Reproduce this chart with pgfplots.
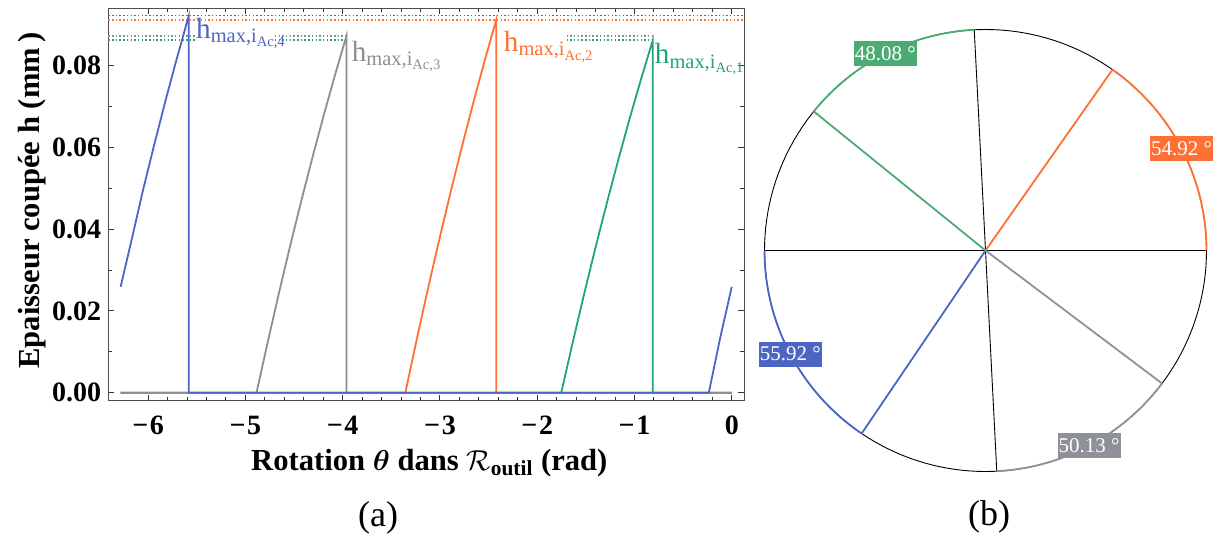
\documentclass[border=0pt]{standalone}
\usepackage{fontspec}
\setmainfont{Liberation Serif}
\usepackage{amsmath}
\usepackage{pgfplots}
\pgfplotsset{compat=1.18}
\definecolor{cB}{RGB}{78,100,198}
\definecolor{cO}{RGB}{255,112,50}
\definecolor{cG}{RGB}{30,165,120}
\definecolor{cY}{RGB}{140,142,148}
\definecolor{pB}{RGB}{76,100,196}
\definecolor{pO}{RGB}{255,112,51}
\definecolor{pG}{RGB}{76,170,116}
\definecolor{pY}{RGB}{142,146,152}
\tikzset{dotl/.style={line width=0.75pt, dash pattern=on 0.75pt off 1.1pt}}
\begin{document}
\begin{tikzpicture}
\path[use as bounding box] (0,0) rectangle (607pt,268.5pt);
\begin{axis}[
  at={(54.15pt,68.15pt)}, anchor=south west,
  scale only axis, width=317.85pt, height=196.2pt,
  xmin=-6.41, xmax=0.126, ymin=-0.00196, ymax=0.0940,
  axis line style={black!70, line width=0.5pt},
  tick style={black!80, line width=0.5pt},
  major tick length=3pt, minor tick length=2pt,
  tick align=inside,
  xtick={-6,-5,-4,-3,-2,-1,0},
  xticklabels={{−\kern0.8pt6},{−\kern0.8pt5},{−\kern0.8pt4},{−\kern0.8pt3},{−\kern0.8pt2},{−\kern0.8pt1},{0}},
  ytick={0,0.02,0.04,0.06,0.08},
  yticklabels={0.00,0.02,0.04,0.06,0.08},
  minor x tick num=4, minor y tick num=1,
  ticklabel style={font=\fontsize{14}{16}\selectfont\bfseries},
  xticklabel style={yshift=-4pt},
  xlabel={Rotation $\boldsymbol{\theta}$ dans $\mathcal{R}_{\textbf{outil}}$ (rad)},
  ylabel={Epaisseur coupée h (mm\,)},
  xlabel style={at={(axis description cs:0.505,-0.159)}, anchor=center, font=\fontsize{15.3}{18}\selectfont\bfseries},
  ylabel style={at={(axis description cs:-0.12,0.51)}, anchor=center, rotate=0, font=\fontsize{15.3}{18}\selectfont\bfseries},
  clip=false,
]
% dotted reference lines
\addplot[cB, dotl] coordinates {(-6.41,0.09227) (0.126,0.09227)};
\addplot[cO, dotl] coordinates {(-6.41,0.0912) (0.126,0.0912)};
\addplot[cY, dotl] coordinates {(-6.41,0.0872) (-5.52,0.0872)};
\addplot[cY, dotl] coordinates {(-4.698,0.0872) (-3.958,0.0872)};
\addplot[cY, dotl] coordinates {(-1.699,0.0872) (-0.798,0.0872)};
\addplot[cG, dotl] coordinates {(-6.41,0.0862) (-5.52,0.0862)};
\addplot[cG, dotl] coordinates {(-4.698,0.0862) (-3.958,0.0862)};
\addplot[cG, dotl] coordinates {(-1.699,0.0862) (-0.798,0.0862)};
% series
\addplot[cG, line width=0.9pt] coordinates {(-6.2832,0) (-1.753,0) (-1.6354,0.01228) (-1.5178,0.02414) (-1.4001,0.03556) (-1.2825,0.04655) (-1.1649,0.05711) (-1.0473,0.06724) (-0.9296,0.07693) (-0.812,0.0862) (-0.812,0) (0,0)};
\addplot[cO, line width=0.9pt] coordinates {(-6.2832,0) (-3.356,0) (-3.2391,0.013) (-3.1223,0.02554) (-3.0054,0.03762) (-2.8885,0.04925) (-2.7716,0.06042) (-2.6548,0.07114) (-2.5379,0.0814) (-2.421,0.0912) (-2.421,0) (0,0)};
\addplot[cY, line width=0.9pt] coordinates {(-6.2832,0) (-4.886,0) (-4.7705,0.01243) (-4.655,0.02442) (-4.5395,0.03597) (-4.424,0.04709) (-4.3085,0.05777) (-4.193,0.06802) (-4.0775,0.07783) (-3.962,0.0872) (-3.962,0) (0,0)};
\addplot[cB, line width=0.9pt] coordinates {(-6.2832,0.0259) (-6.1669,0.03773) (-6.0505,0.04979) (-5.9334,0.06108) (-5.8163,0.07192) (-5.6991,0.08229) (-5.582,0.0922) (-5.582,0) (-0.236,0) (-0.118,0.0135) (0,0.0259)};
% labels
\node[cB, anchor=base west, inner sep=0pt, font=\fontsize{14.6}{16}\selectfont] at (axis cs:-5.51,0.08665) {$\text{h}_{\text{max,i}_{\text{Ac,4}}}$};
\node[cY, anchor=base west, inner sep=0pt, font=\fontsize{14.6}{16}\selectfont] at (axis cs:-3.91,0.0811) {$\text{h}_{\text{max,i}_{\text{Ac,3}}}$};
\node[cO, anchor=base west, inner sep=0pt, font=\fontsize{14.6}{16}\selectfont] at (axis cs:-2.346,0.0834) {$\text{h}_{\text{max,i}_{\text{Ac,2}}}$};
\node[cG, anchor=base west, inner sep=0pt, font=\fontsize{14.6}{16}\selectfont] at (axis cs:-0.794,0.0804) {$\text{h}_{\text{max,i}_{\text{Ac,1}}}$};
\end{axis}
\node[font=\fontsize{18}{20}\selectfont] at (189pt,9.5pt) {(a)};
\node[font=\fontsize{18}{20}\selectfont] at (494.5pt,10pt) {(b)};
\begin{axis}[
  at={(492.75pt,143.25pt)}, anchor=center,
  scale only axis, width=221pt, height=221pt,
  xmin=-1, xmax=1, ymin=-1, ymax=1,
  hide axis, clip=false,
]
\addplot[black, line width=0.45pt, domain=0:360, samples=181, variable=\t] ({cos(t)},{sin(t)});
\addplot[black, line width=0.45pt] coordinates {(-1,0) (1,0)};
\addplot[black, line width=0.45pt] coordinates {(-0.05094,0.99870) (0.05094,-0.99870)};
\addplot[pO, line width=0.9pt, domain=0:54.92, samples=40, variable=\t] ({cos(t)},{sin(t)});
\addplot[pG, line width=0.9pt, domain=92.92:141.0, samples=40, variable=\t] ({cos(t)},{sin(t)});
\addplot[pB, line width=0.9pt, domain=180:235.92, samples=40, variable=\t] ({cos(t)},{sin(t)});
\addplot[pY, line width=0.9pt, domain=272.92:323.05, samples=40, variable=\t] ({cos(t)},{sin(t)});
\addplot[pO, line width=0.9pt] coordinates {(0,0) (0.57464,0.81839)};
\addplot[pG, line width=0.9pt] coordinates {(0,0) (-0.77715,0.62932)};
\addplot[pB, line width=0.9pt] coordinates {(0,0) (-0.56049,-0.82817)};
\addplot[pY, line width=0.9pt] coordinates {(0,0) (0.79883,-0.60156)};
\node[fill=pG, text=white, inner sep=0.5pt, minimum width=29pt, minimum height=12.5pt, font=\fontsize{10.5}{12}\selectfont] at (axis cs:-0.4534,0.8913) {48.08 °};
\node[fill=pO, text=white, inner sep=0.5pt, minimum width=29pt, minimum height=12.5pt, font=\fontsize{10.5}{12}\selectfont] at (axis cs:0.8873,0.4611) {54.92 °};
\node[fill=pB, text=white, inner sep=0.5pt, minimum width=29pt, minimum height=12.5pt, font=\fontsize{10.5}{12}\selectfont] at (axis cs:-0.8832,-0.4688) {55.92 °};
\node[fill=pY, text=white, inner sep=0.5pt, minimum width=29pt, minimum height=12.5pt, font=\fontsize{10.5}{12}\selectfont] at (axis cs:0.4690,-0.8832) {50.13 °};
\end{axis}
\end{tikzpicture}
\end{document}
